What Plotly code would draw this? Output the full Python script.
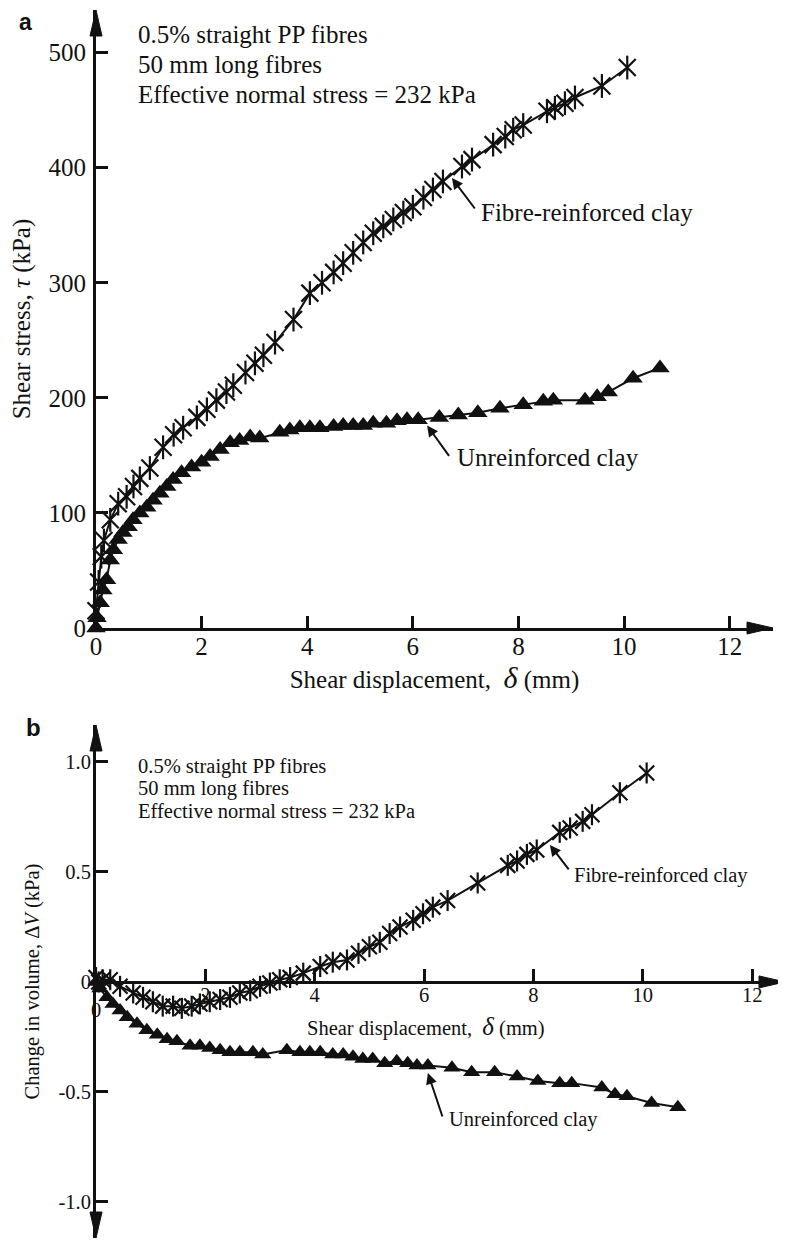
import plotly.graph_objects as go

# ---------------- data ----------------
# Panel a: shear stress (kPa) vs shear displacement (mm)
a_fibre_x = [0.0, 0.05, 0.1, 0.15, 0.27, 0.42, 0.58, 0.71, 0.83, 1.02, 1.27, 1.47, 1.65, 1.91, 2.1,
             2.28, 2.47, 2.6, 2.83, 3.01, 3.17, 3.39, 3.74, 4.05, 4.28, 4.5, 4.68, 4.87, 5.06, 5.25,
             5.44, 5.63, 5.82, 6.0, 6.2, 6.38, 6.57, 6.93, 7.12, 7.52, 7.75, 7.9, 8.09, 8.54, 8.69,
             8.88, 9.07, 9.58, 10.06]
a_fibre_y = [15, 40, 62, 76, 94, 108, 114, 123, 130, 139, 157, 168, 174, 183, 190,
             198, 205, 211, 222, 230, 237, 248, 268, 291, 300, 309, 317, 326, 335, 343,
             349, 355, 361, 366, 374, 381, 388, 401, 407, 420, 427, 433, 437, 449, 452,
             456, 461, 471, 487]

a_clay_x = [0.0, 0.02, 0.08, 0.13, 0.2, 0.27, 0.33, 0.42, 0.51, 0.61, 0.7, 0.83, 0.96, 1.08, 1.21,
            1.34, 1.46, 1.62, 1.81, 2.0, 2.16, 2.35, 2.54, 2.72, 2.92, 3.1, 3.48, 3.67, 3.86, 4.05,
            4.24, 4.5, 4.68, 4.87, 5.06, 5.25, 5.5, 5.7, 5.89, 6.1, 6.5, 6.86, 7.23, 7.65, 8.09,
            8.47, 8.66, 9.26, 9.49, 9.7, 10.17, 10.68]
a_clay_y = [0, 9, 22, 33, 42, 59, 68, 77, 83, 88, 94, 100, 105, 111, 117,
            123, 129, 135, 140, 144, 149, 155, 161, 163, 166, 165, 170, 172, 174, 174,
            174, 175, 176, 176, 176, 178, 178, 180, 181, 181, 183, 185, 187, 191, 194,
            197, 198, 198, 201, 205, 217, 226]

# Panel b: change in volume vs shear displacement (mm)
b_fibre_x = [0.0, 0.05, 0.12, 0.26, 0.44, 0.68, 0.86, 1.04, 1.22, 1.41, 1.57, 1.75, 1.9, 2.08, 2.27,
             2.45, 2.63, 2.82, 3.0, 3.18, 3.36, 3.55, 3.79, 4.1, 4.33, 4.59, 4.8, 5.0, 5.19, 5.37,
             5.56, 5.8, 5.98, 6.16, 6.43, 6.98, 7.53, 7.7, 7.88, 8.06, 8.48, 8.67, 8.9, 9.07, 9.58,
             10.07]
b_fibre_y = [0.02, 0.0, 0.01, 0.01, -0.02, -0.05, -0.07, -0.09, -0.11, -0.11, -0.12, -0.11, -0.10, -0.09, -0.08,
             -0.07, -0.05, -0.04, -0.02, -0.005, 0.01, 0.02, 0.04, 0.07, 0.09, 0.10, 0.13, 0.16, 0.18, 0.22,
             0.25, 0.28, 0.31, 0.34, 0.37, 0.45, 0.53, 0.55, 0.58, 0.60, 0.68, 0.70, 0.73, 0.76, 0.86,
             0.95]

b_clay_x = [0.0, 0.07, 0.2, 0.31, 0.44, 0.57, 0.75, 0.93, 1.12, 1.3, 1.48, 1.72, 1.9, 2.08, 2.27,
            2.45, 2.63, 2.87, 3.05, 3.49, 3.73, 3.91, 4.1, 4.33, 4.52, 4.7, 4.88, 5.06, 5.28, 5.5,
            5.7, 5.87, 6.07, 6.51, 6.87, 7.29, 7.7, 8.08, 8.48, 8.7, 9.25, 9.49, 9.71, 10.16, 10.64]
b_clay_y = [0.0, -0.03, -0.07, -0.10, -0.13, -0.16, -0.19, -0.22, -0.24, -0.26, -0.27, -0.29, -0.29, -0.30, -0.31,
            -0.32, -0.32, -0.32, -0.33, -0.31, -0.32, -0.32, -0.32, -0.33, -0.33, -0.34, -0.35, -0.35, -0.37, -0.36,
            -0.37, -0.38, -0.38, -0.39, -0.41, -0.41, -0.43, -0.45, -0.46, -0.46, -0.48, -0.51, -0.52, -0.55, -0.57]

x_ticks = [0, 2, 4, 6, 8, 10, 12]
a_y_ticks = [0, 100, 200, 300, 400, 500]
b_y_ticks = [-1.0, -0.5, 0, 0.5, 1.0]
b_y_ticktext = ["-1.0", "-0.5", "0", "0.5", "1.0"]
b_x_ticks = [2, 4, 6, 8, 10, 12]

info_lines = ["0.5% straight PP fibres", "50 mm long fibres", "Effective normal stress = 232 kPa"]
x_title_a = "Shear displacement,\u00a0 <span style='font-size:30px'><i>δ</i></span> (mm)"
x_title_b = "Shear displacement,\u00a0 <span style='font-size:25px'><i>δ</i></span> (mm)"

# ---------------- style ----------------
PAGE_W, PAGE_H = 786, 1240
OFF = 8                      # page body margin
W, H = PAGE_W - OFF, PAGE_H - OFF
INK = "#111111"
SERIF = "Liberation Serif"
SANS = "Liberation Sans"


def px(xp):   # screenshot pixel x -> paper
    return (xp - OFF) / W


def py(yp):   # screenshot pixel y -> paper
    return 1 - (yp - OFF) / H


A_XR = [0, 12.82]
A_YR = [0, 537]
B_XR = [0, 12.6]
B_YR = [-1.164, 1.168]

a_xdom = [px(96), px(773)]
a_ydom = [py(628), py(10)]
b_xdom = [px(96), px(785)]
b_ydom = [py(1238), py(725)]
# paper position of y = 0 in panel b (x axis crosses there)
b_x_pos = b_ydom[0] + (0 - B_YR[0]) / (B_YR[1] - B_YR[0]) * (b_ydom[1] - b_ydom[0])

fig = go.Figure()


def add_star(x, y, xa, ya, size):
    fig.add_trace(go.Scatter(x=x, y=y, xaxis=xa, yaxis=ya, mode="lines+markers",
                             line=dict(color=INK, width=2),
                             marker=dict(symbol="x-thin-open", size=size, color=INK,
                                         line=dict(color=INK, width=2.2)),
                             cliponaxis=False, showlegend=False, hoverinfo="skip"))
    fig.add_trace(go.Scatter(x=x, y=y, xaxis=xa, yaxis=ya, mode="markers",
                             marker=dict(symbol="line-ns-open", size=size, color=INK,
                                         line=dict(color=INK, width=2.2)),
                             cliponaxis=False, showlegend=False, hoverinfo="skip"))


def add_tri(x, y, xa, ya, size):
    fig.add_trace(go.Scatter(x=x, y=y, xaxis=xa, yaxis=ya, mode="lines+markers",
                             line=dict(color=INK, width=2),
                             marker=dict(symbol="triangle-up", size=size, color=INK,
                                         line=dict(width=0)),
                             cliponaxis=False, showlegend=False, hoverinfo="skip"))


add_tri(a_clay_x, a_clay_y, "x", "y", 17)
add_star(a_fibre_x, a_fibre_y, "x", "y", 17)
add_tri(b_clay_x, b_clay_y, "x2", "y2", 15)
add_star(b_fibre_x, b_fibre_y, "x2", "y2", 15)

axis_common = dict(showgrid=False, zeroline=False, showline=True, linecolor=INK, linewidth=3,
                   ticks="inside", tickcolor=INK, tickwidth=2.5, ticklen=12, automargin=False)

fig.update_layout(
    template="none",
    width=W, height=H, margin=dict(l=0, r=0, t=0, b=0, autoexpand=False),
    paper_bgcolor="white", plot_bgcolor="white",
    font=dict(family=SERIF, color=INK),
    xaxis=dict(domain=a_xdom, range=A_XR, anchor="y", tickvals=x_ticks,
               tickfont=dict(size=25, family=SERIF, color=INK), ticklabelstandoff=-6,
               title=dict(text=x_title_a, font=dict(size=25, family=SERIF, color=INK), standoff=12),
               **axis_common),
    yaxis=dict(domain=a_ydom, range=A_YR, anchor="x", tickvals=a_y_ticks,
               tickfont=dict(size=25, family=SERIF, color=INK), ticklabelstandoff=2,
               title=dict(text="Shear stress, <i>τ</i> (kPa)",
                          font=dict(size=25, family=SERIF, color=INK), standoff=12),
               **axis_common),
    xaxis2=dict(domain=b_xdom, range=B_XR, anchor="free", position=b_x_pos, tickvals=b_x_ticks,
                tickfont=dict(size=20.5, family=SERIF, color=INK), ticklabelstandoff=-7,
                **axis_common),
    yaxis2=dict(domain=b_ydom, range=B_YR, anchor="x2", tickvals=b_y_ticks, ticktext=b_y_ticktext,
                tickfont=dict(size=20.5, family=SERIF, color=INK), ticklabelstandoff=-2,
                title=dict(text="Change in volume, Δ<i>V</i> (kPa)",
                           font=dict(size=20.5, family=SERIF, color=INK), standoff=14),
                **axis_common),
)

# axis arrowheads: narrow triangles at the axis ends (paper coordinates)
HW, HL = 6, 26  # half-width and length in pixels


def arrowhead(tx, ty, direction):
    dx, dy = HW / W, HW / H
    lx, ly = HL / W, HL / H
    if direction == "up":
        pts = [(tx, ty), (tx - dx, ty - ly), (tx + dx, ty - ly)]
    elif direction == "down":
        pts = [(tx, ty), (tx - dx, ty + ly), (tx + dx, ty + ly)]
    else:
        pts = [(tx, ty), (tx - lx, ty + dy), (tx - lx, ty - dy)]
    path = "M{},{} L{},{} L{},{} Z".format(*[v for p in pts for v in p])
    fig.add_shape(type="path", xref="paper", yref="paper", path=path,
                  fillcolor=INK, line=dict(color=INK, width=1))


arrowhead(a_xdom[0], a_ydom[1], "up")
arrowhead(a_xdom[1], a_ydom[0], "right")
arrowhead(b_xdom[0], b_ydom[1], "up")
arrowhead(b_xdom[0], b_ydom[0], "down")
arrowhead(b_xdom[1], b_x_pos, "right")

ann = []
# panel letters
ann.append(dict(text="<b>a</b>", x=px(25), y=1, xref="paper", yref="paper", borderpad=0,
                showarrow=False, xanchor="center", yanchor="top",
                font=dict(size=23, family=SANS, color=INK)))
ann.append(dict(text="<b>b</b>", x=px(34), y=py(727), xref="paper", yref="paper",
                showarrow=False, xanchor="center", yanchor="middle",
                font=dict(size=24, family=SANS, color=INK)))
# info text
for i, t in enumerate(info_lines):
    ann.append(dict(text=t, x=px(136), y=py(35 + 30 * i), xref="paper", yref="paper",
                    showarrow=False, xanchor="left", yanchor="middle",
                    font=dict(size=25, family=SERIF, color=INK)))
    ann.append(dict(text=t, x=px(136), y=py(766 + 22.5 * i), xref="paper", yref="paper",
                    showarrow=False, xanchor="left", yanchor="middle",
                    font=dict(size=20.5, family=SERIF, color=INK)))

# x-axis title of panel b (sits just under its tick labels)
ann.append(dict(text=x_title_b, x=px(426), y=py(1026), xref="paper", yref="paper",
                showarrow=False, xanchor="center", yanchor="middle",
                font=dict(size=20.5, family=SERIF, color=INK)))


# curve labels with arrows
def label(xref, yref, hx, hy, ax, ay, tx, ty, text, size):
    ann.append(dict(text="", x=hx, y=hy, xref=xref, yref=yref, ax=ax, ay=ay, axref="pixel",
                    ayref="pixel", showarrow=True, arrowhead=2, arrowsize=1.1, arrowwidth=2,
                    arrowcolor=INK))
    ann.append(dict(text=text, x=tx, y=ty, xref=xref, yref=yref, showarrow=False,
                    xanchor="left", yanchor="middle", font=dict(size=size, family=SERIF, color=INK)))


label("x", "y", 6.74, 391, 24, 32, 7.25, 361, "Fibre-reinforced clay", 25)
label("x", "y", 6.27, 176, 23, 32, 6.80, 148, "Unreinforced clay", 25)
label("x2", "y2", 8.30, 0.623, 20, 26, 8.70, 0.486, "Fibre-reinforced clay", 20.5)
label("x2", "y2", 6.07, -0.414, 15, 45, 6.42, -0.627, "Unreinforced clay", 20.5)

# origin label of panel b's x axis (sits below the crossing)
ann.append(dict(text="0", x=0, y=0, xref="x2", yref="y2", showarrow=False, yshift=-28,
                xanchor="center", yanchor="middle", font=dict(size=20.5, family=SERIF, color=INK)))

fig.update_layout(annotations=ann)
fig.write_html("out.html")
